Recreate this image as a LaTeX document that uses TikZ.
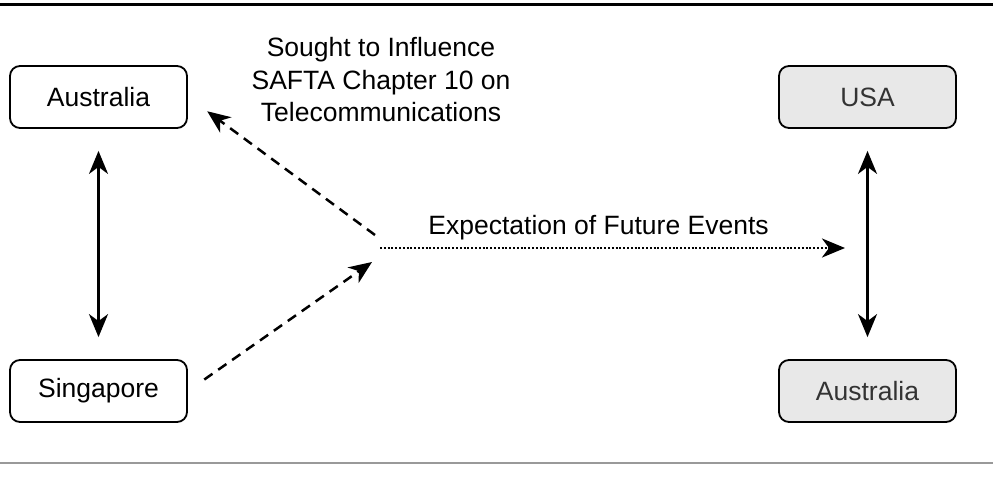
\documentclass[tikz,border=0pt]{standalone}
\usepackage{fontspec}
\setmainfont{Liberation Sans}
\usetikzlibrary{calc, arrows.meta, positioning}

\begin{document}
\begin{tikzpicture}[%
    x=1pt, y=-1pt,
    >={Stealth[length=23pt, width=19pt, inset=7pt]},  % arrow style
    every node/.style={font=\fontsize{26.5}{32.5}\selectfont},
    countrybox/.style={draw, line width=1.8pt, rounded corners=10pt,
                       minimum width=177pt, minimum height=62pt},
    thirdbox/.style={countrybox, fill=black!9, text=black!80},
    linkarrow/.style={->, line width=2.5pt},
    dashedarrow/.style={->, line width=2.5pt, dash pattern=on 10pt off 7pt},
    dottedarrow/.style={->, line width=2.6pt, dash pattern=on 2pt off 1.8pt},
    ]

\useasboundingbox (0,0) rectangle (993,488);

%==================================================
% Rules
%==================================================
\coordinate (TL) at (0,4);
\coordinate (TR) at (993,4);
\coordinate (BL) at (0,463);
\coordinate (BR) at (993,463);
\draw[line width=3pt] (TL) -- (TR);
\draw[line width=1.8pt, black!40] (BL) -- (BR);

%==================================================
% Country nodes
%==================================================
\node[countrybox] (ausL) at (98.5,97)  {Australia};
\node[countrybox] (sing) at (98.5,391) {Singapore};

\node[thirdbox] (usa)  at (867.5,97)  {USA};
\node[thirdbox] (ausR) at (867.5,391) {Australia};

%==================================================
% Hub coordinates
%==================================================
\coordinate (hubtop) at (375,235);
\coordinate (hubbot) at (372,262);
\coordinate (hubmid) at (380,248);
\coordinate (future) at (845,248);

%==================================================
% Labels
%==================================================
\node[align=center] (influence) at (381,80)
    {Sought to Influence\\SAFTA Chapter 10 on\\Telecommunications};

%==================================================
% Arrows
%==================================================
% left pair
\draw[linkarrow, <->, shorten <=22pt, shorten >=22pt] (ausL) -- (sing);
% right pair
\draw[linkarrow, <->, shorten <=22pt, shorten >=22pt] (usa) -- (ausR);

% influence
\draw[dashedarrow, shorten >=24pt] (hubtop) -- (ausL.east);
\draw[dashedarrow, shorten <=20pt] (sing.east) -- (hubbot);

% expectation
\draw[dottedarrow] (hubmid) -- node[pos=0.47, above=3pt] {Expectation of Future Events} (future);

%==================================================
\end{tikzpicture}
\end{document}
